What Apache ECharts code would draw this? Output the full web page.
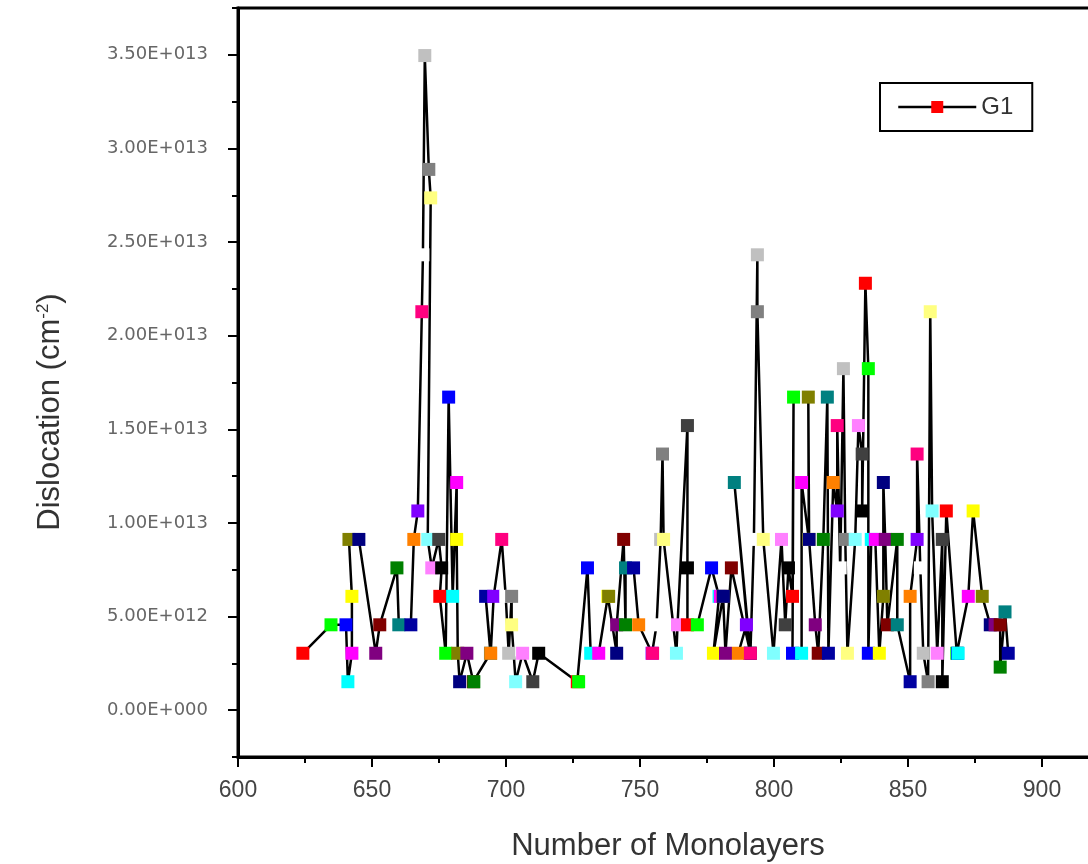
<!DOCTYPE html>
<html>
<head>
<meta charset="utf-8">
<title>Dislocation vs Number of Monolayers</title>
<script src="https://cdn.jsdelivr.net/npm/echarts@6.0.0/dist/echarts.min.js"></script>
<style>
  html, body { margin: 0; padding: 0; background: #fff; }
  #main { width: 1088px; height: 864px; }
</style>
</head>
<body>
<div id="main"></div>
<script>
// number of monolayers (x) for each point, in plotting order
const monolayers = [
  624.2, 634.7, 640.3, 641.0, 642.5, 642.5, 641.4, 645.1, 651.4, 652.9,
  659.3, 660.0, 664.5, 665.6, 667.1, 668.6, 669.0, 669.7, 671.2, 671.9,
  670.8, 672.3, 674.9, 676.0, 675.3, 677.5, 678.6, 680.1, 681.6, 681.6,
  682.0, 682.7, 685.4, 687.8, 688.0, 694.2, 692.4, 694.3, 695.4, 698.4,
  699.9, 701.0, 702.1, 702.1, 703.6, 706.2, 710.0, 712.2, 726.6, 727.1,
  730.4, 731.6, 734.6, 738.0, 738.3, 741.3, 741.3, 743.9, 744.6, 744.6,
  747.6, 749.5, 754.5, 754.7, 756.2, 757.7, 758.4, 758.8, 763.6, 764.0,
  767.7, 767.7, 767.7, 771.4, 776.7, 779.5, 780.0, 777.4, 781.0, 781.1,
  781.9, 784.1, 791.2, 785.2, 791.0, 786.7, 789.7, 791.2, 792.5, 793.8,
  793.8, 796.0, 799.8, 802.8, 804.2, 805.4, 806.9, 807.3, 806.9, 810.3,
  810.3, 813.0, 812.8, 813.1, 815.4, 816.5, 818.4, 819.9, 820.3, 822.1,
  823.6, 823.6, 824.7, 825.9, 826.6, 827.4, 830.3, 831.5, 832.9, 832.9,
  834.1, 835.2, 835.2, 836.3, 837.8, 839.3, 840.8, 840.8, 841.5, 842.3,
  846.0, 846.0, 850.8, 850.8, 853.4, 853.4, 854.6, 855.7, 857.5, 858.3,
  859.0, 860.9, 862.8, 862.8, 864.3, 868.2, 868.5, 868.7, 872.5, 874.3,
  877.7, 880.7, 882.5, 884.4, 884.4, 886.2, 887.4
];

// dislocation density (cm^-2) for each point
const dislocation = [
  3.04e12, 4.56e12, 4.56e12, 1.52e12, 3.04e12, 6.08e12, 9.12e12, 9.12e12, 3.04e12, 4.56e12,
  7.6e12, 4.56e12, 4.56e12, 9.12e12, 1.064e13, 2.128e13, 2.432e13, 3.496e13, 2.888e13, 2.736e13,
  9.12e12, 7.6e12, 9.12e12, 7.6e12, 6.08e12, 3.04e12, 1.672e13, 6.08e12, 1.216e13, 9.12e12,
  3.04e12, 1.52e12, 3.04e12, 1.52e12, 1.52e12, 3.04e12, 6.08e12, 3.04e12, 6.08e12, 9.12e12,
  6.08e12, 3.04e12, 6.08e12, 4.56e12, 1.52e12, 3.04e12, 1.52e12, 3.04e12, 1.52e12, 1.52e12,
  7.6e12, 3.04e12, 3.04e12, 6.08e12, 6.08e12, 3.04e12, 4.56e12, 9.12e12, 4.56e12, 7.6e12,
  7.6e12, 4.56e12, 3.04e12, 3.04e12, 4.56e12, 9.12e12, 1.368e13, 9.12e12, 3.04e12, 4.56e12,
  1.52e13, 7.6e12, 4.56e12, 4.56e12, 7.6e12, 6.08e12, 6.08e12, 3.04e12, 6.08e12, 6.08e12,
  3.04e12, 7.6e12, 3.04e12, 1.216e13, 3.04e12, 3.04e12, 4.56e12, 3.04e12, 9.12e12, 2.432e13,
  2.128e13, 9.12e12, 3.04e12, 9.12e12, 4.56e12, 7.6e12, 6.08e12, 1.672e13, 3.04e12, 3.04e12,
  1.216e13, 9.12e12, 1.672e13, 9.12e12, 4.56e12, 3.04e12, 9.12e12, 1.672e13, 3.04e12, 1.216e13,
  1.064e13, 1.52e13, 7.6e12, 1.824e13, 9.12e12, 3.04e12, 9.12e12, 1.52e13, 1.368e13, 1.064e13,
  2.28e13, 1.824e13, 3.04e12, 9.12e12, 9.12e12, 3.04e12, 6.08e12, 1.216e13, 9.12e12, 4.56e12,
  9.12e12, 4.56e12, 1.52e12, 6.08e12, 9.12e12, 1.368e13, 7.6e12, 3.04e12, 1.52e12, 2.128e13,
  1.064e13, 3.04e12, 9.12e12, 1.52e12, 1.064e13, 3.04e12, 3.04e12, 3.04e12, 6.08e12, 1.064e13,
  6.08e12, 4.56e12, 4.56e12, 4.56e12, 2.3e12, 5.25e12, 3.04e12
];

const yTickValues = [0, 5e12, 1e13, 1.5e13, 2e13, 2.5e13, 3e13, 3.5e13];
const yTickLabels = ['0.00E+000', '5.00E+012', '1.00E+013', '1.50E+013',
  '2.00E+013', '2.50E+013', '3.00E+013', '3.50E+013'];
const yMinorTicks = [-2.5e12, 2.5e12, 7.5e12, 1.25e13, 1.75e13, 2.25e13, 2.75e13, 3.25e13, 3.75e13];

// Origin's incrementing colour list, one colour per point
const originColors = [
  '#000000', '#FF0000', '#00FF00', '#0000FF', '#00FFFF', '#FF00FF', '#FFFF00', '#808000',
  '#000080', '#800080', '#800000', '#008000', '#008080', '#0000A0', '#FF8000', '#8000FF',
  '#FF0080', '#FFFFFF', '#C0C0C0', '#808080', '#FFFF80', '#80FFFF', '#FF80FF', '#404040'
];

let myChart = echarts.init(document.getElementById('main'));

let option = {
  animation: false,
  grid: {
    left: 238,
    top: 8,
    right: -88,
    bottom: 107,
    outerBoundsMode: 'none',
    containLabel: false,
    show: true,
    borderColor: '#000',
    borderWidth: 3
  },
  legend: {
    data: [{
      name: 'G1',
      itemStyle: { color: '#FF0000' },
      lineStyle: { color: '#000', width: 2.5 }
    }],
    left: 880,
    top: 83,
    padding: [12, 19, 12, 17],
    itemWidth: 78,
    itemHeight: 15,
    itemGap: 0,
    borderColor: '#000',
    borderWidth: 2,
    textStyle: {
      fontFamily: '"Liberation Sans", Arial, sans-serif',
      fontSize: 24,
      color: '#333'
    }
  },
  xAxis: {
    type: 'value',
    min: 600,
    max: 950,
    interval: 50,
    axisLine: { show: true, onZero: false, lineStyle: { color: '#000', width: 3 } },
    axisTick: { show: true, length: 10, lineStyle: { color: '#000', width: 2 } },
    minorTick: { show: true, splitNumber: 2, length: 6, lineStyle: { color: '#000', width: 2 } },
    splitLine: { show: false },
    axisLabel: {
      margin: 22,
      fontFamily: '"Liberation Sans", Arial, sans-serif',
      fontSize: 23,
      color: '#444'
    }
  },
  yAxis: [{
    type: 'value',
    min: -2.5e12,
    max: 3.75e13,
    position: 'left',
    axisLine: { show: true, onZero: false, lineStyle: { color: '#000', width: 3 } },
    axisTick: { show: true, length: 10, lineStyle: { color: '#000', width: 2 }, customValues: yTickValues },
    splitLine: { show: false },
    axisLabel: {
      customValues: yTickValues,
      margin: 30,
      fontFamily: '"DejaVu Sans", sans-serif',
      fontSize: 18,
      color: '#666',
      formatter: function (v) {
        let k = yTickValues.indexOf(v);
        return k >= 0 ? yTickLabels[k] : '';
      }
    }
  }, {
    // minor ticks only
    type: 'value',
    min: -2.5e12,
    max: 3.75e13,
    position: 'left',
    axisLine: { show: false, onZero: false },
    axisTick: { show: true, length: 6, lineStyle: { color: '#000', width: 2 }, customValues: yMinorTicks },
    axisLabel: { show: false },
    splitLine: { show: false }
  }],
  graphic: [{
    type: 'text',
    x: 668,
    y: 846,
    style: {
      text: 'Number of Monolayers',
      font: '31px "Liberation Sans", Arial, sans-serif',
      fill: '#333',
      align: 'center',
      verticalAlign: 'middle',
      textAlign: 'center',
      textVerticalAlign: 'middle'
    }
  }, {
    type: 'text',
    x: 50,
    y: 412,
    rotation: Math.PI / 2,
    style: {
      text: 'Dislocation (cm{sup|-2})',
      font: '31px "Liberation Sans", Arial, sans-serif',
      fill: '#333',
      align: 'center',
      verticalAlign: 'middle',
      textAlign: 'center',
      textVerticalAlign: 'middle',
      rich: {
        sup: {
          fontSize: 17,
          fontFamily: '"Liberation Sans", Arial, sans-serif',
          fill: '#333',
          verticalAlign: 'top'
        }
      }
    }
  }],
  series: [{
    name: 'G1',
    type: 'line',
    data: monolayers.map((x, i) => [x, dislocation[i]]),
    symbol: 'rect',
    symbolSize: 13,
    showSymbol: true,
    showAllSymbol: true,
    lineStyle: { color: '#000', width: 2.5 },
    itemStyle: {
      borderWidth: 0,
      color: function (params) {
        return originColors[(params.dataIndex + 1) % originColors.length];
      }
    },
    emphasis: { disabled: true }
  }]
};

myChart.setOption(option);
</script>
</body>
</html>
